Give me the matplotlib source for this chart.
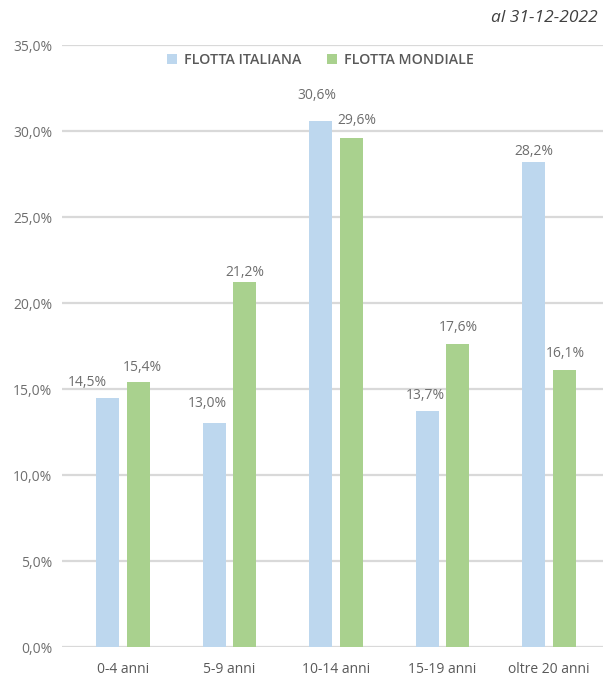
import numpy as np
import matplotlib.pyplot as plt

# fleet age distribution, Italian vs world fleet
categories = ["0-4 anni", "5-9 anni", "10-14 anni", "15-19 anni", "oltre 20 anni"]
flotta_italiana = [14.5, 13.0, 30.6, 13.7, 28.2]
flotta_mondiale = [15.4, 21.2, 29.6, 17.6, 16.1]
y_ticks = [0, 5, 10, 15, 20, 25, 30, 35]

BLUE = "#BDD7EE"
GREEN = "#A9D18E"
GRID = "#D9D9D9"
TEXT = "#6E6E6E"

plt.rcParams["font.family"] = ["Open Sans", "DejaVu Sans"]

fig = plt.figure(figsize=(6.03, 6.79), dpi=100)
ax = fig.add_axes([0.1028, 0.0471, 0.8972, 0.8866])

x = np.arange(len(categories))
w = 0.215
off = 0.143
bars_it = ax.bar(x - off, flotta_italiana, w, color=BLUE, label="FLOTTA ITALIANA", zorder=3)
bars_mo = ax.bar(x + off, flotta_mondiale, w, color=GREEN, label="FLOTTA MONDIALE", zorder=3)

# label offsets in pixels from the top centre of each bar
it_offsets = [(-20, 15), (-7, 20), (-4, 25), (-2, 16), (0, 10)]
mo_offsets = [(4, 15), (0, 10), (6, 17), (1, 17), (1, 17)]

for bars, vals, offs in [(bars_it, flotta_italiana, it_offsets),
                         (bars_mo, flotta_mondiale, mo_offsets)]:
    for b, v, (dx, dy) in zip(bars, vals, offs):
        ax.annotate(f"{v:.1f}%".replace(".", ","),
                    (b.get_x() + b.get_width() / 2, v),
                    xytext=(dx, dy), textcoords="offset pixels",
                    ha="center", va="center", fontsize=10, color=TEXT, zorder=4)

ax.set_ylim(0, 35)
ax.set_xlim(-0.573, 4.507)
ax.set_yticks(y_ticks)
ax.set_yticklabels([f"{t:.1f}%".replace(".", ",") for t in y_ticks])
ax.set_xticks(x)
ax.set_xticklabels(categories)
ax.tick_params(axis="y", length=0, pad=7, labelsize=10, labelcolor=TEXT)
ax.tick_params(axis="x", length=0, pad=11, labelsize=10, labelcolor="#595959")
ax.yaxis.grid(True, color=GRID, linewidth=1.6, zorder=0)
for s in ax.spines.values():
    s.set_visible(False)

leg = ax.legend(loc="center", bbox_to_anchor=(0.477, 0.975), ncol=2, frameon=False,
                handlelength=0.75, handleheight=0.75, handletextpad=0.45,
                columnspacing=1.8, prop={"size": 10.2, "weight": "semibold"})
for t in leg.get_texts():
    t.set_color("#595959")

fig.text(0.992, 0.973, "al 31-12-2022", ha="right", va="center",
         fontsize=12.5, style="italic", color="#404040")

fig.savefig("out.png", dpi=100)
